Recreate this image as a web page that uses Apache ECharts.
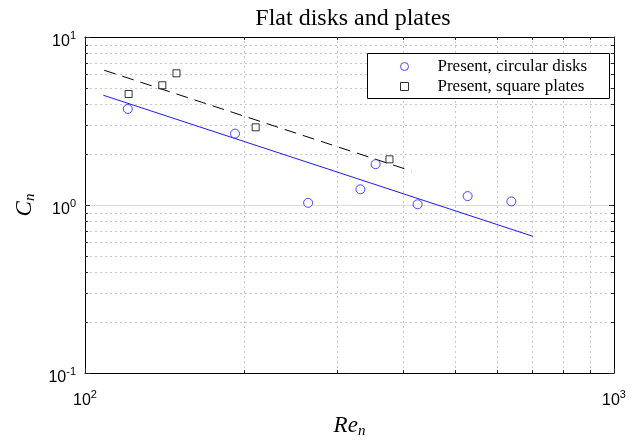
<!DOCTYPE html>
<html>
<head>
<meta charset="utf-8">
<script src="https://cdn.jsdelivr.net/npm/echarts@6/dist/echarts.min.js"></script>
<style>
  html, body { margin: 0; padding: 0; background: #fff; }
  #chart { width: 632px; height: 440px; }
</style>
</head>
<body>
<div id="chart"></div>
<script>
// values
const circRe = [120.5, 192.1, 264.1, 331.6, 354.3, 425.3, 528.8, 639.6];
const circCn = [3.73, 2.66, 1.03, 1.24, 1.75, 1.01, 1.13, 1.05];
const sqRe = [120.9, 140.0, 148.9, 210.2, 376.3];
const sqCn = [4.58, 5.16, 6.08, 2.90, 1.87];

// power-law fits (end points)
const fitCircRe = [108.3, 702.6];
const fitCircCn = [4.50, 0.651];
const fitSqRe = [108.7, 414.0];
const fitSqCn = [6.34, 1.594];

// minor grid positions and tick labels
const xMinor = [200, 300, 400, 500, 600, 700, 800, 900];
const yMinor = [0.2, 0.3, 0.4, 0.5, 0.6, 0.7, 0.8, 0.9, 2, 3, 4, 5, 6, 7, 8, 9];
const xTickLabels = { 100: '2', 1000: '3' };
const yTickLabels = { 0.1: '-1', 1: '0', 10: '1' };

const serif = 'Liberation Serif';
const sans = 'Liberation Sans';
const blue = '#1a1aff';
const gridColor = '#c8c8c8';
const tickColor = '#262626';

const zip = (a, b) => a.map((v, i) => [v, b[i]]);

const powLabel = (map) => (v) => {
  let key = Object.keys(map).find(k => Math.abs(Number(k) - v) / v < 1e-6);
  return '{b|10}{s|' + (key !== undefined ? map[key] : '') + '}';
};
const labelRich = {
  b: { fontFamily: sans, fontSize: 16, color: '#000' },
  s: { fontFamily: sans, fontSize: 11, color: '#000', padding: [0, 0, 12, 0] }
};
const nameRich = {
  i: { fontFamily: serif, fontStyle: 'italic', fontSize: 23, color: '#000' },
  sub: { fontFamily: serif, fontStyle: 'italic', fontSize: 15, color: '#000', padding: [11, 0, 0, 0] }
};

const px = (v) => Math.round(v) + 0.5;

function minorX(params, api) {
  const x = api.value(0);
  const b = api.coord([x, 0.1]);
  const t = api.coord([x, 10]);
  const xx = px(b[0]);
  return {
    type: 'group',
    children: [
      { type: 'line', shape: { x1: xx, y1: b[1], x2: xx, y2: t[1] },
        style: { stroke: gridColor, lineWidth: 1, lineDash: [2, 3] } },
      { type: 'line', shape: { x1: xx, y1: b[1], x2: xx, y2: b[1] - 3 },
        style: { stroke: tickColor, lineWidth: 1 } },
      { type: 'line', shape: { x1: xx, y1: t[1], x2: xx, y2: t[1] + 3 },
        style: { stroke: tickColor, lineWidth: 1 } }
    ]
  };
}

function minorY(params, api) {
  const y = api.value(1);
  const l = api.coord([100, y]);
  const r = api.coord([1000, y]);
  const yy = px(l[1]);
  return {
    type: 'group',
    children: [
      { type: 'line', shape: { x1: l[0], y1: yy, x2: r[0], y2: yy },
        style: { stroke: gridColor, lineWidth: 1, lineDash: [2, 3] } },
      { type: 'line', shape: { x1: l[0], y1: yy, x2: l[0] + 3, y2: yy },
        style: { stroke: tickColor, lineWidth: 1 } },
      { type: 'line', shape: { x1: r[0], y1: yy, x2: r[0] - 3, y2: yy },
        style: { stroke: tickColor, lineWidth: 1 } }
    ]
  };
}

const axisLine = { show: true, onZero: false, lineStyle: { color: '#000', width: 1 } };
const axisTick = { show: true, inside: true, length: 5, lineStyle: { color: tickColor } };

const option = {
  backgroundColor: '#fff',
  animation: false,
  title: {
    text: 'Flat disks and plates',
    left: 348,
    top: 2,
    textAlign: 'center',
    textStyle: { fontFamily: serif, fontSize: 24, fontWeight: 'normal', color: '#000' }
  },
  // legend frame
  graphic: [{
    type: 'rect', left: 367, top: 53, z: 9,
    shape: { width: 242, height: 45 },
    style: { fill: '#fff', stroke: '#000', lineWidth: 1 }
  }],
  legend: {
    orient: 'vertical',
    left: 400,
    top: 58,
    data: [
      { name: 'Present, circular disks', icon: 'circle' },
      { name: 'Present, square plates', icon: 'path://M0,0L10,0L10,10L0,10Z' }
    ],
    itemWidth: 8,
    itemHeight: 8,
    itemGap: 3,
    padding: 0,
    itemStyle: { borderWidth: 1 },
    formatter: (name) => '{t|' + name + '}',
    textStyle: {
      fontFamily: serif, fontSize: 17, color: '#000',
      rich: { t: { fontFamily: serif, fontSize: 17, color: '#000', padding: [0, 0, 0, 24] } }
    },
    z: 10
  },
  grid: { left: 85, right: 18, top: 37, bottom: 67, containLabel: false, outerBoundsMode: 'none' },
  xAxis: [
    {
      type: 'log', logBase: 10, min: 100, max: 1000,
      name: '{i|Re}{sub|n}', nameLocation: 'middle', nameGap: 40,
      nameTextStyle: { rich: nameRich },
      axisLine, axisTick,
      splitLine: { show: false },
      axisLabel: { margin: 16, formatter: powLabel(xTickLabels), rich: labelRich }
    },
    {
      type: 'log', logBase: 10, min: 100, max: 1000, position: 'top',
      axisLine, axisTick, axisLabel: { show: false }, splitLine: { show: false }
    }
  ],
  yAxis: [
    {
      type: 'log', logBase: 10, min: 0.1, max: 10, interval: 1,
      name: '{i|C}{sub|n}', nameLocation: 'middle', nameGap: 42,
      nameTextStyle: { rich: nameRich },
      axisLine, axisTick,
      splitLine: { show: true, lineStyle: { color: '#dcdcdc', width: 1 } },
      axisLabel: { margin: 9, padding: [10, 0, 0, 0], formatter: powLabel(yTickLabels), rich: labelRich }
    },
    {
      type: 'log', logBase: 10, min: 0.1, max: 10, interval: 1, position: 'right',
      axisLine, axisTick, axisLabel: { show: false }, splitLine: { show: false }
    }
  ],
  series: [
    {
      name: 'minorX', type: 'custom', silent: true, z: 1,
      data: xMinor.map(v => [v, 1]), encode: { x: 0, y: 1 },
      renderItem: minorX
    },
    {
      name: 'minorY', type: 'custom', silent: true, z: 1,
      data: yMinor.map(v => [200, v]), encode: { x: 0, y: 1 },
      renderItem: minorY
    },
    {
      name: 'fit circular', type: 'line', z: 3, silent: true,
      data: zip(fitCircRe, fitCircCn), symbol: 'none',
      lineStyle: { color: blue, width: 1 }
    },
    {
      name: 'fit square', type: 'line', z: 3, silent: true,
      data: zip(fitSqRe, fitSqCn), symbol: 'none',
      lineStyle: { color: '#000', width: 1, type: [12, 7] }
    },
    {
      name: 'Present, circular disks', type: 'scatter', z: 4,
      data: zip(circRe, circCn), symbol: 'circle', symbolSize: 9,
      itemStyle: { color: '#fff', borderColor: blue, borderWidth: 1 }
    },
    {
      name: 'Present, square plates', type: 'scatter', z: 4,
      data: zip(sqRe, sqCn), symbol: 'rect', symbolSize: 7, symbolKeepAspect: true,
      itemStyle: { color: '#fff', borderColor: '#000', borderWidth: 1 }
    }
  ]
};

const myChart = echarts.init(document.getElementById('chart'));
myChart.setOption(option);
</script>
</body>
</html>
